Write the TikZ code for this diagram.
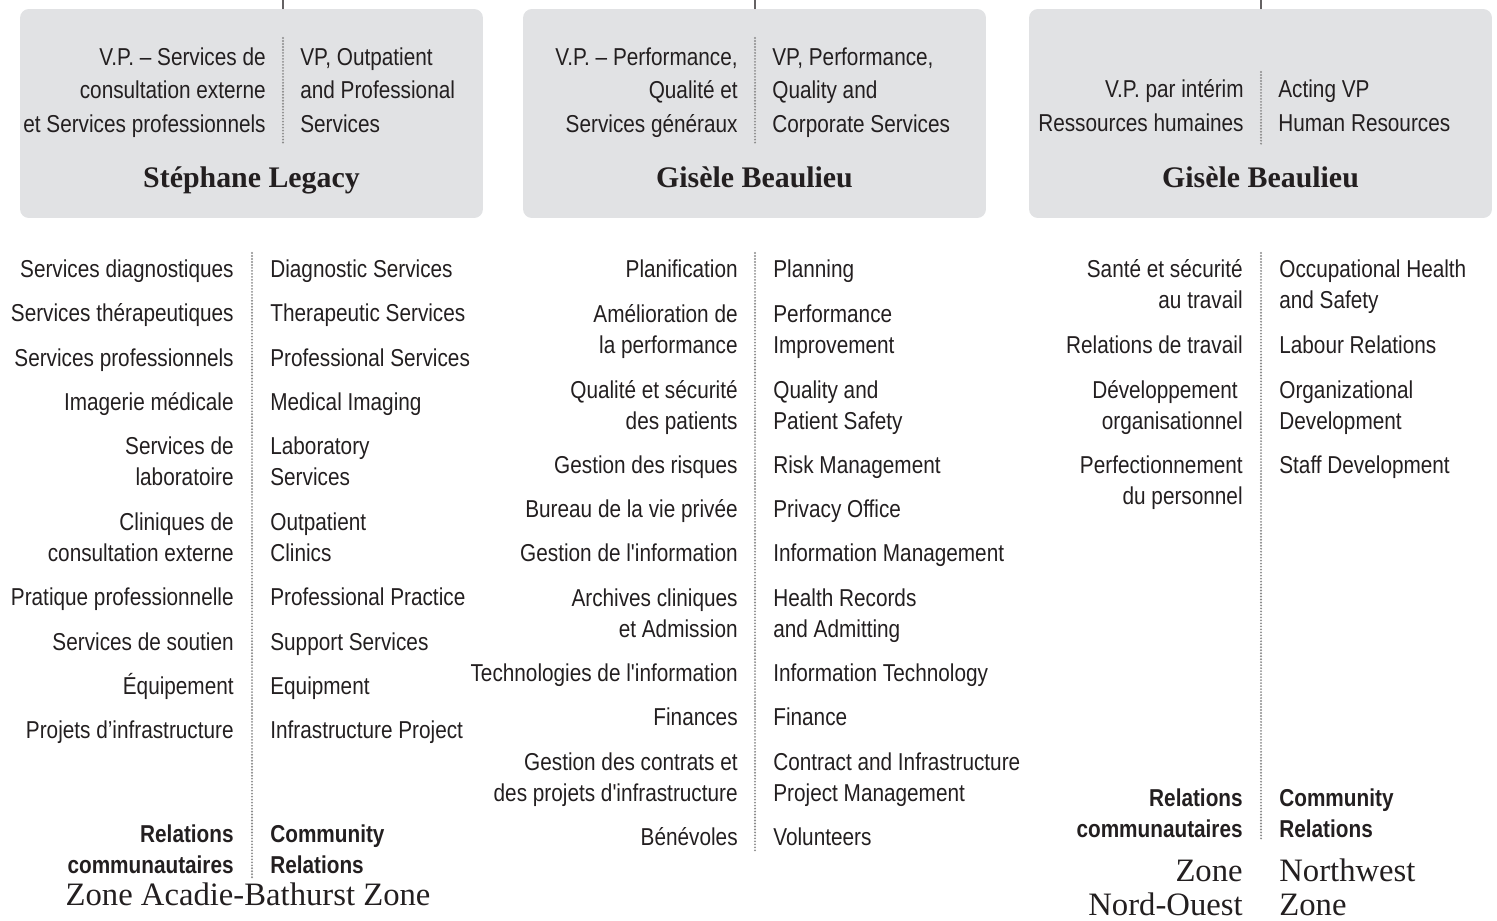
\documentclass[tikz,border=0pt]{standalone}
\usepackage{fontspec}
\newfontfamily\condsans[FakeStretch=0.85]{Liberation Sans}
\newfontfamily\namefont{Liberation Serif}
\definecolor{boxgray}{RGB}{225,226,228}
\definecolor{ink}{RGB}{35,31,32}
\begin{document}
\begin{tikzpicture}[x=0.02cm,y=-0.02cm,line join=round,line cap=round,
	font=\condsans\fontsize{13.9}{17.6}\selectfont,text=ink,
	vpbox/.style={fill=boxgray,rounded corners=5pt,minimum width=9.26cm,minimum height=4.18cm},
	fr/.style={anchor=base east,align=right,inner sep=0pt},
	en/.style={anchor=base west,align=left,inner sep=0pt},
	head/.style={font=\condsans\fontsize{13.9}{19}\selectfont},
	rel/.style={font=\condsans\fontsize{13.9}{17.6}\selectfont\bfseries},
	who/.style={anchor=base,font=\namefont\bfseries\fontsize{17}{20}\selectfont,inner sep=0pt},
	zone/.style={font=\namefont\fontsize{18.6}{19.3}\selectfont,inner sep=0pt},
	sep/.style={draw=black!45,line width=1.2pt,dash pattern=on 0pt off 1.7pt},
	link/.style={draw=ink!70,line width=0.6pt}]
		\useasboundingbox (0,0) rectangle (1497,920);
		\node[vpbox] (box1) at (251.5,113.5) {};
		\node[vpbox] (box2) at (754.5,113.5) {};
		\node[vpbox] (box3) at (1260.5,113.5) {};
		\coordinate (top1) at (283,0);
		\coordinate (top2) at (755,0);
		\coordinate (top3) at (1261,0);
		\draw[link] (top1) -- (top1 |- box1.north);
		\draw[link] (top2) -- (top2 |- box2.north);
		\draw[link] (top3) -- (top3 |- box3.north);
		% vice-presidents (base = last line)
		\node[fr,head] (vp1f) at (266,132) {V.P. – Services de\\consultation externe\\et Services professionnels};
		\node[en,head] (vp1e) at (300,132) {VP, Outpatient\\and Professional\\Services};
		\node[who] (name1) at (251.5,187) {Stéphane Legacy};
		\node[fr,head] (vp2f) at (738,132) {V.P. – Performance,\\Qualité et\\Services généraux};
		\node[en,head] (vp2e) at (772,132) {VP, Performance,\\Quality and\\Corporate Services};
		\node[who] (name2) at (754.5,187) {Gisèle Beaulieu};
		\node[fr,head] (vp3f) at (1244,131) {V.P. par intérim\\Ressources humaines};
		\node[en,head] (vp3e) at (1278,131) {Acting VP\\Human Resources};
		\node[who] (name3) at (1260.5,187) {Gisèle Beaulieu};
		\draw[sep] (283,38) -- (283,145);
		\draw[sep] (755,38) -- (755,145);
		\draw[sep] (1261,72) -- (1261,145);
		% services
		\foreach \yy/\txtfr/\txten [count=\i] in {277/{Services diagnostiques}/{Diagnostic Services},
			321/{Services thérapeutiques}/{Therapeutic Services},
			366/{Services professionnels}/{Professional Services},
			410/{Imagerie médicale}/{Medical Imaging},
			485/{Services de\\laboratoire}/{Laboratory\\Services},
			561/{Cliniques de\\consultation externe}/{Outpatient\\Clinics},
			605/{Pratique professionnelle}/{Professional Practice},
			650/{Services de soutien}/{Support Services},
			694/{Équipement}/{Equipment},
			738/{Projets d’infrastructure}/{Infrastructure Project}}{
			\node[fr] (c1f\i) at (234,\yy) {\txtfr};
			\node[en] (c1e\i) at (270,\yy) {\txten};
		}
		\foreach \yy/\txtfr/\txten [count=\i] in {277/{Planification}/{Planning},
			353/{Amélioration de\\la performance}/{Performance\\Improvement},
			429/{Qualité et sécurité\\des patients}/{Quality and\\Patient Safety},
			473/{Gestion des risques}/{Risk Management},
			517/{Bureau de la vie privée}/{Privacy Office},
			561/{Gestion de l'information}/{Information Management},
			637/{Archives cliniques\\et Admission}/{Health Records\\and Admitting},
			681/{Technologies de l'information}/{Information Technology},
			725/{Finances}/{Finance},
			801/{Gestion des contrats et\\des projets d'infrastructure}/{Contract and Infrastructure\\Project Management},
			845/{Bénévoles}/{Volunteers}}{
			\node[fr] (c2f\i) at (738,\yy) {\txtfr};
			\node[en] (c2e\i) at (773,\yy) {\txten};
		}
		\foreach \yy/\txtfr/\txten [count=\i] in {308/{Santé et sécurité\\au travail}/{Occupational Health\\and Safety},
			353/{Relations de travail}/{Labour Relations},
			429/{Développement\hspace*{0.1cm}\\organisationnel}/{Organizational\\Development},
			504/{Perfectionnement\\du personnel}/{Staff Development}}{
			\node[fr] (c3f\i) at (1243,\yy) {\txtfr};
			\node[en] (c3e\i) at (1279,\ifnum\i=4 473\else\yy\fi) {\txten};
		}
		\draw[sep] (252,253) -- (252,880);
		\draw[sep] (755,253) -- (755,851);
		\draw[sep] (1261,253) -- (1261,841);
		% community relations and zones
		\node[fr,rel] (rel1f) at (234,873) {Relations\\communautaires};
		\node[en,rel] (rel1e) at (270,873) {Community\\Relations};
		\node[zone,anchor=base] (zone1) at (248,905) {Zone Acadie-Bathurst Zone};
		\node[fr,rel] (rel3f) at (1243,837) {Relations\\communautaires};
		\node[en,rel] (rel3e) at (1279,837) {Community\\Relations};
		\node[fr,zone] (zone3f) at (1243,915) {Zone\\Nord-Ouest};
		\node[en,zone] (zone3e) at (1279,915) {Northwest\\Zone};
\end{tikzpicture}
\end{document}
